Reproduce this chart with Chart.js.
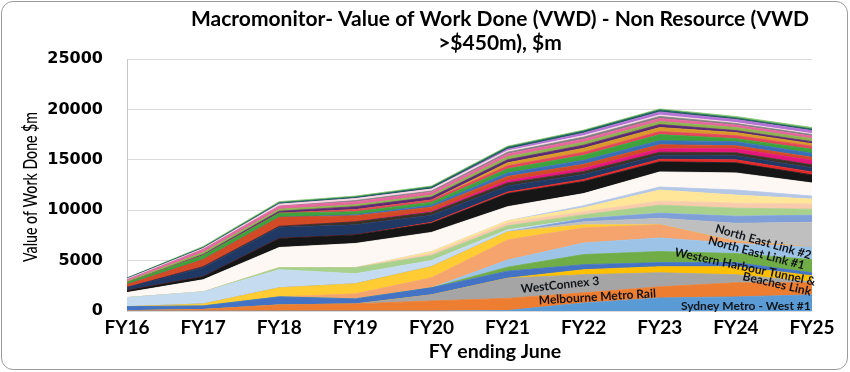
<!DOCTYPE html>
<html><head><meta charset="utf-8">
<script src="https://cdn.jsdelivr.net/npm/chart.js@4.4.1/dist/chart.umd.min.js"></script>
<style>
html,body{margin:0;padding:0;background:#fff;}
#wrap{position:relative;width:850px;height:372px;overflow:hidden;}
#c{position:absolute;left:0;top:0;}
#frame{position:absolute;left:1px;top:1px;width:847px;height:369px;box-sizing:border-box;border:1.5px solid #9c9c9c;border-radius:12px;pointer-events:none;}
</style>
</head><body>
<div id="wrap"><canvas id="c" width="850" height="372"></canvas><div id="frame"></div></div>
<script>
// ---- data (values in $m) ----
const fyLabels = ['FY16','FY17','FY18','FY19','FY20','FY21','FY22','FY23','FY24','FY25'];
const yTickValues = [0,5000,10000,15000,20000,25000];

const sydneyMetroWest1   = [0,0,0,0,0,50,800,1300,1400,1600];
const melbourneMetroRail = [30,150,600,700,1000,1200,1000,1100,1400,1200];
const westConnex3        = [0,0,0,0,600,2000,1800,1400,800,100];
const westernHarbour     = [0,0,0,0,0,0,500,600,800,600];
const project05 = [400,350,800,500,700,700,500,400,400,300];
const northEastLink1     = [0,0,0,0,0,400,1000,1100,900,1300];
const northEastLink2     = [0,0,0,0,0,700,1150,1350,1000,1250];
const project08 = [0,0,0,500,1000,2000,1500,1300,200,0];
const project09 = [0,200,900,1000,1100,800,300,0,0,0];
const project10 = [0,0,0,0,0,0,300,650,1800,2450];
const project11 = [0,0,0,0,0,0,300,500,700,700];
const project12 = [900,1200,1800,1000,600,200,0,0,0,0];
const project13 = [0,0,200,600,500,400,400,800,800,600];
const project14 = [0,0,0,0,200,300,300,400,500,500];
const project15 = [0,0,0,0,200,200,400,1100,800,500];
const project16 = [0,0,0,0,0,0,200,300,500,300];
const project17 = [500,1200,2000,2400,1900,1400,1200,1500,1700,1300];
const project18 = [200,300,900,850,900,1300,1200,1000,1000,800];
const project19 = [0,0,0,0,100,150,200,250,300,300];
const project20 = [300,900,1100,1000,700,600,500,400,400,400];
const project21 = [0,100,100,300,300,300,300,300,300,300];
const project22 = [0,0,0,0,100,250,300,350,400,450];
const project23 = [300,700,900,600,400,400,400,400,300,300];
const project24 = [0,0,0,100,200,350,400,400,400,400];
const project25 = [200,400,400,300,300,400,500,600,300,400];
const project26 = [0,0,0,200,200,300,300,300,300,300];
const project27 = [0,0,0,0,0,300,400,400,300,250];
const project28 = [0,100,200,300,300,300,300,300,200,200];
const project29 = [100,200,200,200,200,300,300,300,300,300];
const project30 = [150,300,300,300,300,300,300,300,250,250];
const project31 = [0,0,0,100,100,150,200,200,150,150];
const project32 = [100,100,200,200,200,150,150,150,100,100];
const project33 = [0,0,0,0,0,150,250,300,300,300];
const project34 = [90,100,150,150,200,200,200,200,150,150];
const project35 = [0,100,100,100,100,100,100,100,150,150];

const seriesNames = ['Sydney Metro - West #1','Melbourne Metro Rail','WestConnex 3','Western Harbour Tunnel & Beaches Link','Project 05','North East Link #1','North East Link #2','Project 08','Project 09','Project 10','Project 11','Project 12','Project 13','Project 14','Project 15','Project 16','Project 17','Project 18','Project 19','Project 20','Project 21','Project 22','Project 23','Project 24','Project 25','Project 26','Project 27','Project 28','Project 29','Project 30','Project 31','Project 32','Project 33','Project 34','Project 35'];
const seriesData = [sydneyMetroWest1,melbourneMetroRail,westConnex3,westernHarbour,project05,northEastLink1,northEastLink2,project08,project09,project10,project11,project12,project13,project14,project15,project16,project17,project18,project19,project20,project21,project22,project23,project24,project25,project26,project27,project28,project29,project30,project31,project32,project33,project34,project35];

// ---- styles ----
const seriesColors = ['#5b9bd5','#ed7d31','#a5a5a5','#ffc000','#4472c4','#70ad47','#9dc3e6','#f4a46c','#ffcc33','#bfbfbf','#7f9fd8','#c5dcf0','#a9d18e','#f8cbad','#ffe699','#b4c7e7','#fdf8f3','#161616','#e02a2a','#203864','#3d3226','#e4177b','#d24a26','#3a6fb8','#3ea33c','#e5475a','#d99a2b','#5c2a72','#8db24f','#e6679f','#808080','#f7d7e3','#b374d6','#1b5e5a','#7cc26b'];

const datasets = seriesData.map((d,i)=>({
  label: seriesNames[i], data: d,
  backgroundColor: seriesColors[i], borderColor: seriesColors[i],
  borderWidth: 0.8, fill: i===0 ? 'origin' : '-1', pointRadius: 0, tension: 0
}));

const areaLabels = [
  {text:'Sydney Metro - West #1', xi:8.13, v:500, angle:0},
  {text:'Melbourne Metro Rail', xi:6.18, v:1390, angle:-3.5},
  {text:'WestConnex 3', xi:5.69, v:2580, angle:-6},
  {text:'North East Link #2', xi:8.36, v:6850, angle:16},
  {text:'North East Link #1', xi:8.27, v:5750, angle:15},
  {text:'Western Harbour Tunnel &', xi:8.12, v:4365, angle:12},
  {text:'Beaches Link', xi:8.54, v:2680, angle:13}
];

const textPlugin = {
  id:'texts',
  afterDatasetsDraw(chart){
    const c = chart.ctx, xs = chart.scales.x, ys = chart.scales.y;
    c.save();
    c.fillStyle = '#111418';
    c.font = 'bold 12px Lato';
    c.textAlign = 'center'; c.textBaseline = 'middle';
    const x0 = xs.getPixelForValue(0), dx = xs.getPixelForValue(1) - x0;
    areaLabels.forEach(l=>{
      c.save();
      c.translate(x0 + l.xi*dx, ys.getPixelForValue(l.v));
      c.rotate(l.angle*Math.PI/180);
      c.fillText(l.text, 0, 0);
      c.restore();
    });
    c.restore();
  },
  afterDraw(chart){
    const c = chart.ctx;
    c.save();
    c.fillStyle = '#000';
    c.textAlign = 'center'; c.textBaseline = 'middle';
    c.font = 'bold 21px Lato';
    c.fillText('Macromonitor- Value of Work Done (VWD) - Non Resource (VWD', 500, 19);
    c.fillText('>$450m), $m', 500, 43);
    c.font = 'bold 19.5px Lato';
    c.fillText('FY ending June', 495, 352);
    c.translate(31, 187);
    c.rotate(-Math.PI/2);
    c.font = '500 20px Lato';
    const t = 'Value of Work Done $m';
    const w = c.measureText(t).width;
    c.scale(150/w, 1);
    c.fillText(t, 0, 0);
    c.restore();
  }
};

new Chart(document.getElementById('c'), {
  type:'line',
  data:{labels: fyLabels, datasets},
  options:{
    responsive:false, animation:false, devicePixelRatio:1,
    layout:{padding:{top:59, right:38, bottom:0, left:0}},
    plugins:{legend:{display:false}, tooltip:{enabled:false}, title:{display:false}},
    scales:{
      x:{offset:false, grid:{display:false, drawTicks:false}, border:{display:false},
         ticks:{font:{family:'Lato', weight:'bold', size:19}, color:'#000', padding:5, maxRotation:0, autoSkip:false},
         afterFit(s){ s.height = 61; }},
      y:{stacked:true, min:0, max:25000,
         grid:{color:'#d9d9d9', drawTicks:false}, border:{display:true, color:'#c8c8c8'},
         ticks:{font:{family:'DejaVu Sans', weight:'bold', size:16}, color:'#000', padding:24, callback:(v)=>String(v)},
         afterBuildTicks(s){ s.ticks = yTickValues.map(v=>({value:v})); },
         afterFit(s){ s.width = 127; }}
    }
  },
  plugins:[textPlugin]
});
</script>
</body></html>
